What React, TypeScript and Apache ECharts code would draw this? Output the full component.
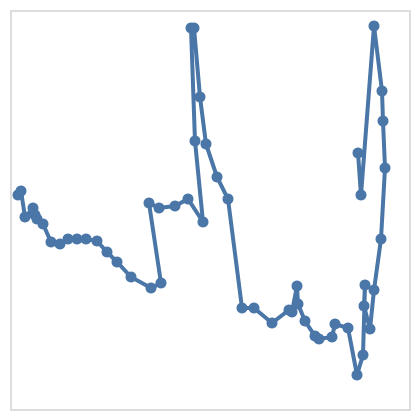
import React, { useRef, useEffect } from 'react';
import * as echarts from 'echarts';

// point positions in plot units (y measured downward from top)
const xs = [18, 21, 25, 33, 35, 37, 43, 51, 60, 68, 77, 86, 97, 107, 117, 131, 151, 161, 149, 159, 175, 188, 203, 195, 191, 194, 200, 206, 217, 228, 242, 254, 272, 289, 292, 297, 298, 305, 315, 319, 332, 335, 348, 357, 363, 365, 364, 370, 374, 381, 385, 383, 382, 374, 361, 358];
const ys = [195, 191, 217, 208, 215, 219, 224, 242, 244, 239, 239, 239, 241, 252, 262, 277, 288, 283, 203, 208, 206, 199, 222, 141, 28, 28, 97, 144, 177, 199, 308, 308, 323, 310, 312, 286, 304, 321, 336, 339, 337, 324, 328, 375, 355, 285, 306, 329, 290, 239, 168, 121, 91, 26, 195, 153];

const App = () => {
  const chartRef = useRef(null);

  useEffect(() => {
    const myChart = echarts.init(chartRef.current, null, { renderer: 'svg' });
    const option = {
      animation: false,
      grid: { left: 3, right: 2, top: 3, bottom: 2, show: true, borderColor: '#dddddd', borderWidth: 2 },
      xAxis: { type: 'value', min: 11, max: 410, show: false },
      yAxis: { type: 'value', min: -410, max: -11, show: false },
      series: [
        {
          type: 'line',
          data: xs.map((x, i) => [x, -ys[i]]),
          symbol: 'circle',
          symbolSize: 11,
          lineStyle: { color: '#4a76a8', width: 4, join: 'miter' },
          itemStyle: { color: '#4a76a8' },
        },
      ],
    };
    myChart.setOption(option);
    return () => {
      myChart.dispose();
    };
  }, []);

  return <div ref={chartRef} style={{ width: '404px', height: '404px' }} />;
};

export default App;
